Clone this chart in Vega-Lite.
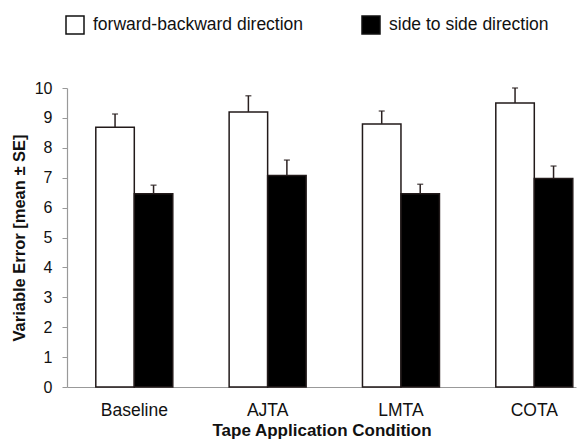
{
  "$schema": "https://vega.github.io/schema/vega-lite/v6.json",
  "autosize": {"type": "none"},
  "padding": {"left": 67, "top": 88, "right": 3, "bottom": 58},
  "width": 509,
  "height": 299,
  "background": "white",
  "config": {
    "view": {"stroke": null},
    "font": "Liberation Sans",
    "axisY": {"tickCount": 12, "labelOverlap": false, "labelFlush": false}
  },
  "data": {
    "values": [
      {"cond": "Baseline", "dir": "forward-backward direction", "mean": 8.69, "upper": 9.13},
      {"cond": "Baseline", "dir": "side to side direction", "mean": 6.46, "upper": 6.75},
      {"cond": "AJTA", "dir": "forward-backward direction", "mean": 9.2, "upper": 9.74},
      {"cond": "AJTA", "dir": "side to side direction", "mean": 7.07, "upper": 7.59},
      {"cond": "LMTA", "dir": "forward-backward direction", "mean": 8.8, "upper": 9.23},
      {"cond": "LMTA", "dir": "side to side direction", "mean": 6.46, "upper": 6.78},
      {"cond": "COTA", "dir": "forward-backward direction", "mean": 9.5, "upper": 10.0},
      {"cond": "COTA", "dir": "side to side direction", "mean": 6.97, "upper": 7.39}
    ]
  },
  "encoding": {
    "x": {
      "field": "cond",
      "type": "nominal",
      "sort": ["Baseline", "AJTA", "LMTA", "COTA"],
      "scale": {"paddingInner": 0.4225, "paddingOuter": 0.12, "align": 0.9},
      "axis": {
        "title": "Tape Application Condition",
        "titleFontSize": 17,
        "titleFontWeight": "bold",
        "titleColor": "#111",
        "titlePadding": 4,
        "labelAngle": 0,
        "labelFontSize": 17.5,
        "labelColor": "#111",
        "labelPadding": 14,
        "ticks": false,
        "domainColor": "#999",
        "domainWidth": 1.2
      }
    },
    "xOffset": {
      "field": "dir",
      "type": "nominal",
      "scale": {"paddingInner": 0, "paddingOuter": 0}
    }
  },
  "layer": [
    {
      "mark": {"type": "bar", "stroke": "#221a1a", "strokeWidth": 1.5},
      "encoding": {
        "y": {
          "field": "mean",
          "type": "quantitative",
          "scale": {"domain": [0, 10], "nice": false},
          "axis": {
            "title": "Variable Error [mean ± SE]",
            "titleFontSize": 16.5,
            "titleFontWeight": "bold",
            "titleColor": "#111",
            "titlePadding": 7,
            "values": [0, 1, 2, 3, 4, 5, 6, 7, 8, 9, 10],
            "tickCount": 12,
            "labelOverlap": false,
            "labelFlush": false,
            "labelFontSize": 16,
            "labelColor": "#111",
            "labelPadding": 10,
            "tickSize": 5,
            "tickColor": "#999",
            "domainColor": "#999",
            "domainWidth": 1.2,
            "grid": false
          }
        },
        "color": {
          "field": "dir",
          "type": "nominal",
          "scale": {"domain": ["forward-backward direction", "side to side direction"], "range": ["white", "black"]},
          "legend": {
            "title": null,
            "orient": "none",
            "direction": "horizontal",
            "legendX": -2,
            "legendY": -73,
            "symbolType": "square",
            "symbolSize": 324,
            "symbolStrokeColor": "#111",
            "symbolStrokeWidth": 1.5,
            "symbolOpacity": 1,
            "labelFontSize": 17.5,
            "labelColor": "#111",
            "labelOffset": 8,
            "labelLimit": 400,
            "columnPadding": 55,
            "padding": 0
          }
        }
      }
    },
    {
      "mark": {"type": "rule", "color": "#2a2020", "strokeWidth": 1.5},
      "encoding": {
        "y": {"field": "mean", "type": "quantitative"},
        "y2": {"field": "upper"}
      }
    },
    {
      "mark": {"type": "tick", "color": "#2a2020", "thickness": 1.5, "size": 6},
      "encoding": {
        "y": {"field": "upper", "type": "quantitative"}
      }
    }
  ]
}
